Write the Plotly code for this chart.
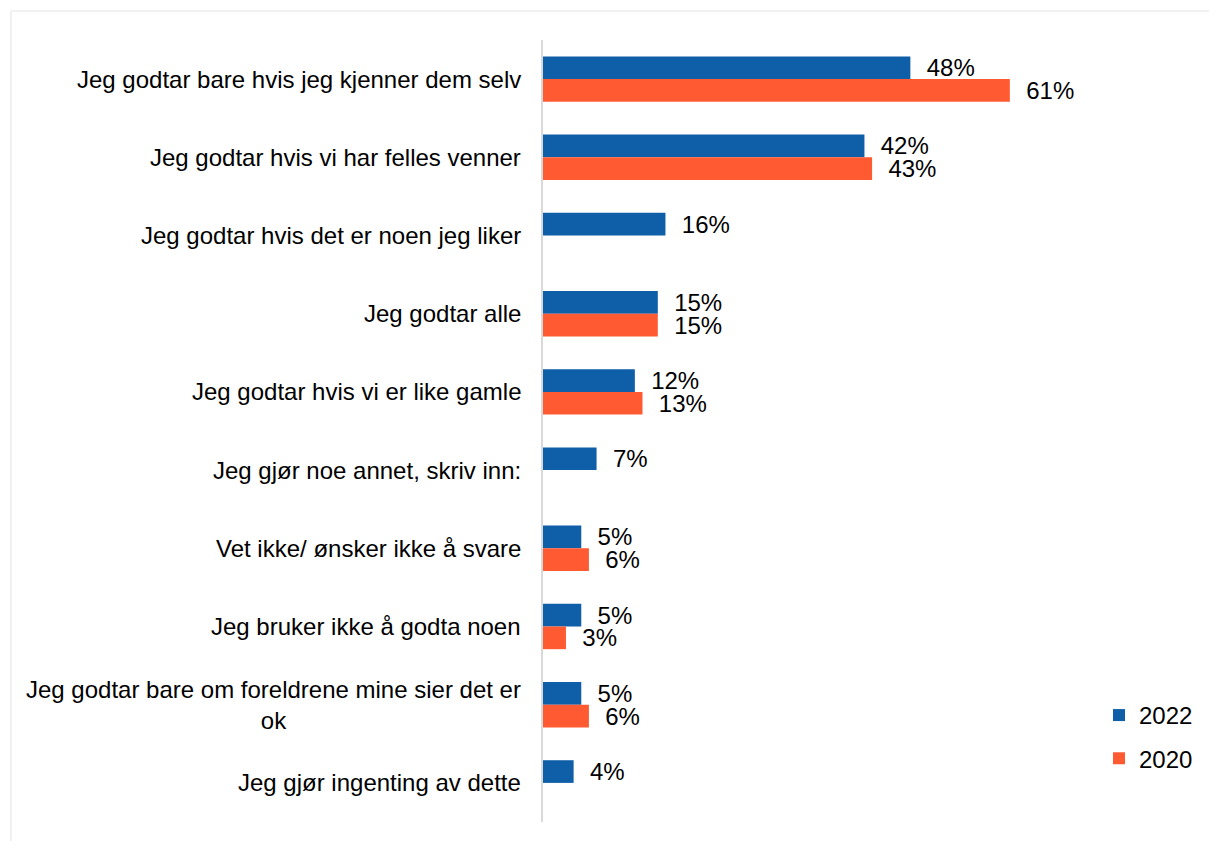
import plotly.graph_objects as go

# Survey answers (per cent) for the two survey years
categories = [
    "Jeg godtar bare hvis jeg kjenner dem selv",
    "Jeg godtar hvis vi har felles venner",
    "Jeg godtar hvis det er noen jeg liker",
    "Jeg godtar alle",
    "Jeg godtar hvis vi er like gamle",
    "Jeg gjør noe annet, skriv inn:",
    "Vet ikke/ ønsker ikke å svare",
    "Jeg bruker ikke å godta noen",
    "Jeg godtar bare om foreldrene mine sier det er<br>ok",
    "Jeg gjør ingenting av dette",
]
values_2022 = [48, 42, 16, 15, 12, 7, 5, 5, 5, 4]
values_2020 = [61, 43, None, 15, 13, None, 6, 3, 6, None]

BLUE = "#0E5EA8"
ORANGE = "#FF5A31"
FONT = "Arial, Liberation Sans, sans-serif"
FS = 24

W, H = 1209, 841
ML, MR, MT, MB = 543, 91, 40, 19
XMAX = 75

fig = go.Figure()
for name, vals, color, grp in [("2022", values_2022, BLUE, "a"),
                               ("2020", values_2020, ORANGE, "b")]:
    fig.add_trace(go.Bar(
        y=categories, x=vals, name=name, orientation="h",
        marker=dict(color=color, line=dict(width=0)),
        text=vals, texttemplate="\u00a0\u00a0%{x}%", textposition="outside",
        textfont=dict(family=FONT, size=FS, color="#000000"),
        constraintext="none", cliponaxis=False, legendgroup=grp,
    ))

# Category labels as annotations so wrapped lines are centred
for cat in categories:
    fig.add_annotation(
        x=0, xref="paper", y=cat, yref="y", text=cat, showarrow=False,
        xanchor="right", yanchor="middle", align="center", xshift=-20,
        font=dict(family=FONT, size=FS, color="#000000"),
    )

# Light frame along the top and left edges
pw = W - ML - MR
ph = H - MT - MB
fx0 = (10 - ML) / pw
fy0 = (H - 11 - MB) / ph
fig.add_shape(type="line", xref="paper", yref="paper", x0=fx0, x1=(W - ML + 5) / pw,
              y0=fy0, y1=fy0, line=dict(color="#e3e3e3", width=1))
fig.add_shape(type="line", xref="paper", yref="paper", x0=fx0, x1=fx0,
              y0=fy0, y1=-MB / ph - 0.05, line=dict(color="#e3e3e3", width=1))

fig.update_layout(
    width=W, height=H,
    margin=dict(l=ML, r=MR, t=MT, b=MB),
    paper_bgcolor="white", plot_bgcolor="white",
    barmode="group", bargap=0.42, bargroupgap=0,
    font=dict(family=FONT, size=FS, color="#000000"),
    xaxis=dict(range=[0, XMAX], visible=False, showgrid=False, zeroline=False),
    yaxis=dict(autorange="reversed", showticklabels=False, showgrid=False,
               showline=True, linecolor="#d9d9d9", linewidth=2, ticks=""),
    legend=dict(x=(1099 - ML) / pw, xanchor="left", y=0.165, yanchor="top",
                bgcolor="rgba(0,0,0,0)", tracegroupgap=9,
                font=dict(family=FONT, size=FS, color="#000000")),
    showlegend=True,
)

fig.write_html("out.html")
